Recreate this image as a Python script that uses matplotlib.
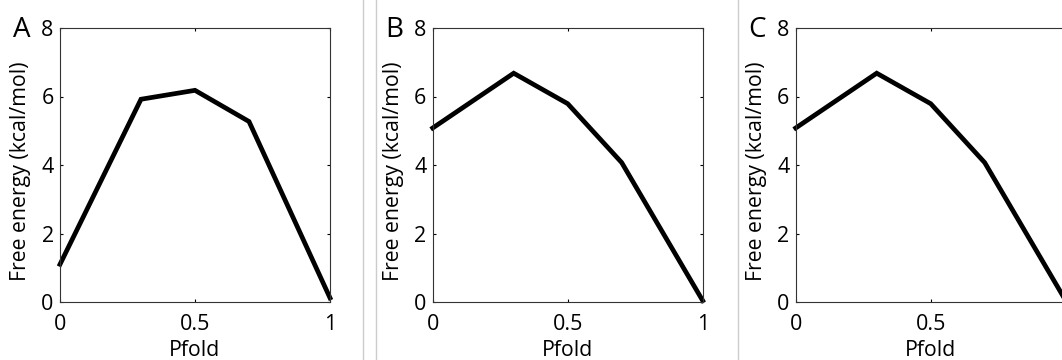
import matplotlib.pyplot as plt
from matplotlib.lines import Line2D

# Données
pfold = [0, 0.3, 0.5, 0.7, 1]
energie_a = [1.1, 5.92, 6.18, 5.27, 0.12]
energie_b = [5.08, 6.68, 5.79, 4.07, 0.04]
energie_c = [5.08, 6.68, 5.79, 4.07, 0.04]
lettres = ['A', 'B', 'C']
x_ticks = [0, 0.5, 1]
x_tick_labels = ['0', '0.5', '1']
y_ticks = [0, 2, 4, 6, 8]

plt.rcParams['font.family'] = ['Open Sans', 'DejaVu Sans']

fig = plt.figure(figsize=(10.62, 3.6), dpi=100)
W, H = 1062, 360
gauches = [60, 432.7, 795.7]
series = [energie_a, energie_b, energie_c]

for gauche, y, lettre in zip(gauches, series, lettres):
    ax = fig.add_axes([gauche / W, (H - 302) / H, 270 / W, 274 / H])
    ax.plot(pfold, y, color='black', linewidth=3.4, solid_joinstyle='miter', clip_on=False)
    ax.set_xlim(0, 1)
    ax.set_ylim(0, 8)
    ax.set_xticks(x_ticks)
    ax.set_xticklabels(x_tick_labels)
    ax.set_yticks(y_ticks)
    ax.tick_params(direction='in', top=True, right=True, length=2.5, width=0.8,
                   labelsize=15.5, pad=4.5, colors='black')
    ax.tick_params(axis='x', pad=9)
    for s in ax.spines.values():
        s.set_linewidth(0.8)
        s.set_color('#333333')
    ax.set_xlabel('Pfold', fontsize=15.3)
    ax.xaxis.label.set_va('baseline')
    ax.xaxis.set_label_coords(0.5, (302 - 356) / 274)
    ax.set_ylabel('Free energy (kcal/mol)', fontsize=15.3)
    ax.yaxis.set_label_coords(-0.107, 0.476)
    fig.text((gauche - 47) / W, (H - 37) / H, lettre, fontsize=20, ha='left', va='baseline')

# Séparateurs gris entre les panneaux
for xs in [363.3, 376, 738]:
    fig.add_artist(Line2D([xs / W, xs / W], [0, 1], color='#cccccc', linewidth=1))

fig.savefig('out.png', dpi=100)
